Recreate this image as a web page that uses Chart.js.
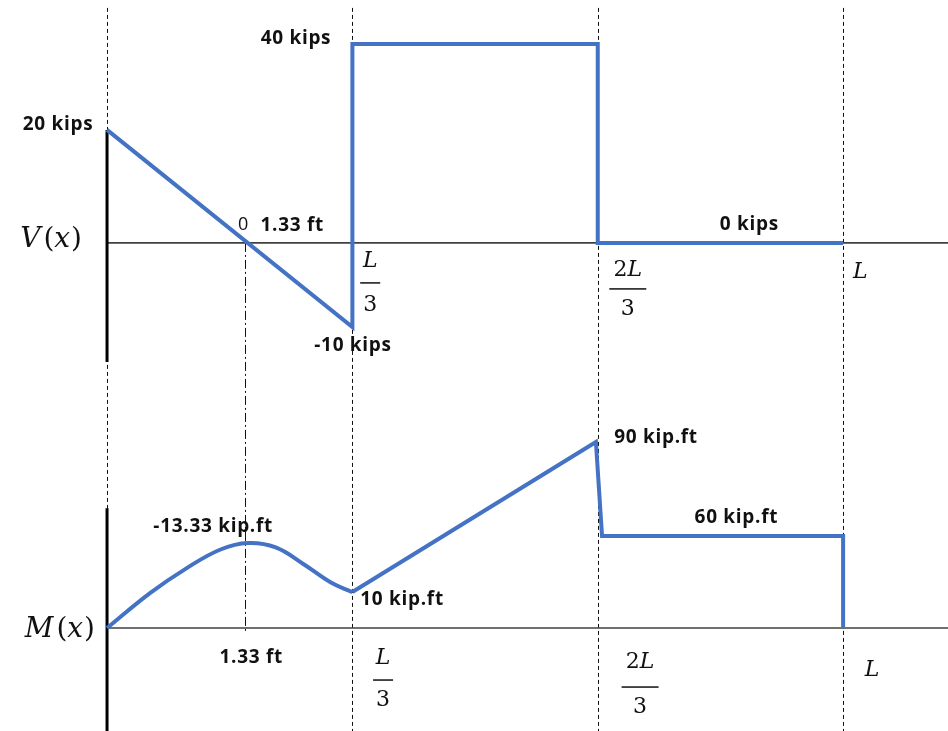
<!DOCTYPE html>
<html>
<head>
<meta charset="utf-8">
<script src="https://cdn.jsdelivr.net/npm/chart.js@4.4.0/dist/chart.umd.min.js"></script>
<style>
  html, body { margin: 0; padding: 0; background: #fff; }
  #wrap { width: 948px; height: 731px; }
</style>
</head>
<body>
<div id="wrap"><canvas id="diagram"></canvas></div>
<script>
// beam positions in ft (drawn with L = 12 ft, so L/3 = 4, 2L/3 = 8)
const shearX = [0, 4, 4, 8, 8, 12];
const shearV = [20, -14.9, 35.2, 35.2, 0, 0];          // heights as drawn, kips
const momentCurveX = [0, 0.7, 1.3, 1.85, 2.3, 2.75, 3.2, 3.65, 4];
const momentCurveM = [0, 16.9, 29.0, 38.0, 41.1, 39.0, 31.0, 22.0, 17.4];  // heights as drawn, kip.ft
const momentLineX = [4, 7.97, 8.07, 12, 12];
const momentLineM = [17.4, 90, 44.5, 44.5, 0];
const guideX = [0, 4, 8, 12];
const zeroShearX = 2.25;

const BLUE = '#4472C4';
const BOLD = '700 19px "Open Sans", sans-serif';
const MATH = '"DejaVu Serif", serif';

const toPoints = (xs, ys) => xs.map((x, i) => ({ x: x, y: ys[i] }));

// value notes: [text, x, value, axis]
const notes = [
  ['20 kips', -0.8, 20.9, 'yV'],
  ['40 kips', 3.08, 36.1, 'yV'],
  ['1.33 ft', 3.02, 3.0, 'yV'],
  ['-10 kips', 4.01, -18.1, 'yV'],
  ['0 kips', 10.47, 3.2, 'yV'],
  ['-13.33 kip.ft', 1.73, 48.9, 'yM'],
  ['1.33 ft', 2.35, -14.5, 'yM'],
  ['10 kip.ft', 4.81, 14.0, 'yM'],
  ['90 kip.ft', 8.95, 92.0, 'yM'],
  ['60 kip.ft', 10.26, 53.2, 'yM']
];

// fraction tick labels under each axis: [numerator, denominator, x, axis, numDy, barDy, denDy]
const fractions = [
  ['L', '3', 4.29, 'yV', 18, 40, 62],
  ['2L', '3', 8.49, 'yV', 27, 46, 66],
  ['L', '', 12.28, 'yV', 29, 0, 0],
  ['L', '3', 4.50, 'yM', 30, 52, 72],
  ['2L', '3', 8.69, 'yM', 34, 59, 79],
  ['L', '', 12.47, 'yM', 42, 0, 0]
];

function mathText(ctx, parts, x, y, size, align) {
  // parts: [[text, italic, extra gap]]
  let w = 0;
  parts.forEach(p => {
    ctx.font = (p[1] ? 'italic ' : '') + size + 'px ' + MATH;
    w += ctx.measureText(p[0]).width + (p[2] || 0);
  });
  let cx = align === 'right' ? x - w : (align === 'center' ? x - w / 2 : x);
  ctx.textAlign = 'left';
  ctx.textBaseline = 'middle';
  parts.forEach(p => {
    ctx.font = (p[1] ? 'italic ' : '') + size + 'px ' + MATH;
    ctx.fillText(p[0], cx, y);
    cx += ctx.measureText(p[0]).width + (p[2] || 0);
  });
}

const diagramPlugin = {
  id: 'diagram',
  beforeDatasetsDraw(chart) {
    const ctx = chart.ctx;
    const sx = chart.scales.x, sv = chart.scales.yV, sm = chart.scales.yM;
    const area = chart.chartArea;
    ctx.save();
    // dashed guides
    ctx.strokeStyle = '#111';
    ctx.lineWidth = 1;
    ctx.setLineDash([4, 3]);
    guideX.forEach(g => {
      const px = Math.round(sx.getPixelForValue(g)) + 0.5;
      ctx.beginPath();
      ctx.moveTo(px, sv.getPixelForValue(41.6));
      ctx.lineTo(px, area.bottom);
      ctx.stroke();
    });
    // dash-dot at the zero shear point
    ctx.setLineDash([9, 3, 2, 3]);
    const zx = Math.round(sx.getPixelForValue(zeroShearX)) + 0.5;
    ctx.beginPath();
    ctx.moveTo(zx, sv.getPixelForValue(0));
    ctx.lineTo(zx, sm.getPixelForValue(-2));
    ctx.stroke();
    ctx.setLineDash([]);
    // base lines
    ctx.strokeStyle = '#404040';
    ctx.lineWidth = 1.6;
    [[sv, 0], [sm, 0]].forEach(([s, v]) => {
      const py = s.getPixelForValue(v);
      ctx.beginPath();
      ctx.moveTo(sx.getPixelForValue(0), py);
      ctx.lineTo(area.right, py);
      ctx.stroke();
    });
    // thick left borders
    ctx.strokeStyle = '#000';
    ctx.lineWidth = 3;
    const x0 = sx.getPixelForValue(0);
    ctx.beginPath();
    ctx.moveTo(x0, sv.getPixelForValue(20));
    ctx.lineTo(x0, sv.getPixelForValue(-21.1));
    ctx.moveTo(x0, sm.getPixelForValue(58));
    ctx.lineTo(x0, area.bottom);
    ctx.stroke();
    ctx.restore();
  },
  afterDatasetsDraw(chart) {
    const ctx = chart.ctx;
    const sx = chart.scales.x;
    ctx.save();
    ctx.fillStyle = '#111';
    ctx.textAlign = 'center';
    ctx.textBaseline = 'middle';
    ctx.font = BOLD;
    ctx.letterSpacing = '0.7px';
    notes.forEach(([t, x, v, ax]) => {
      ctx.fillText(t, sx.getPixelForValue(x), chart.scales[ax].getPixelForValue(v));
    });
    ctx.letterSpacing = '0px';
    // plain zero at the crossing
    ctx.font = '18px "Open Sans", sans-serif';
    ctx.fillText('0', sx.getPixelForValue(2.22), chart.scales.yV.getPixelForValue(3.2));

    // axis names
    const x0 = sx.getPixelForValue(0);
    const yv = chart.scales.yV.getPixelForValue(0);
    const ym = chart.scales.yM.getPixelForValue(0);
    mathText(ctx, [['V', true, 3], ['(', false], ['x', true, 1], [')', false]], x0 - 25, yv - 3, 28, 'right');
    mathText(ctx, [['M', true, 3], ['(', false], ['x', true, 1], [')', false]], x0 - 12, ym + 2, 28, 'right');

    // fraction labels
    fractions.forEach(([num, den, x, ax, nDy, bDy, dDy]) => {
      const cx = sx.getPixelForValue(x);
      const by = chart.scales[ax].getPixelForValue(0);
      const parts = num === '2L' ? [['2', false], ['L', true]] : [['L', true]];
      mathText(ctx, parts, cx, by + nDy, 22, 'center');
      if (den) {
        const w = num === '2L' ? 37 : 20;
        ctx.fillRect(cx - w / 2, by + bDy - 0.75, w, 1.5);
        mathText(ctx, [[den, false]], cx, by + dDy, 22, 'center');
      }
    });
    ctx.restore();
  }
};

new Chart(document.getElementById('diagram'), {
  type: 'line',
  data: {
    datasets: [
      { label: 'V(x)', data: toPoints(shearX, shearV), yAxisID: 'yV', tension: 0 },
      { label: 'M(x) curve', data: toPoints(momentCurveX, momentCurveM), yAxisID: 'yM', tension: 0.4 },
      { label: 'M(x)', data: toPoints(momentLineX, momentLineM), yAxisID: 'yM', tension: 0 }
    ]
  },
  options: {
    responsive: true,
    maintainAspectRatio: false,
    animation: false,
    layout: { padding: 0 },
    elements: {
      line: { borderColor: BLUE, borderWidth: 4, borderJoinStyle: 'miter', fill: false },
      point: { radius: 0 }
    },
    plugins: {
      legend: { display: false },
      tooltip: { enabled: false }
    },
    scales: {
      x: { type: 'linear', min: -1.745, max: 13.71, display: false },
      yV: { type: 'linear', position: 'left', min: -86.4, max: 43.0, display: false },
      yM: { type: 'linear', position: 'left', min: -49.8, max: 303.8, display: false }
    }
  },
  plugins: [diagramPlugin]
});
</script>
</body>
</html>
